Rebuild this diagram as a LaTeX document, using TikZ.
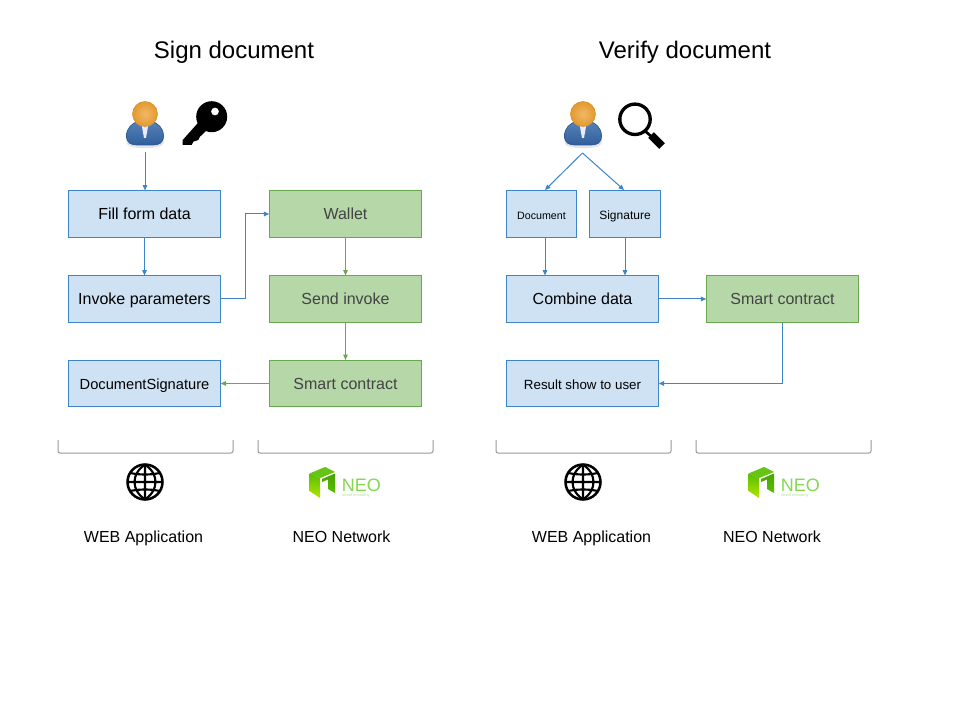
\documentclass[tikz,border=0pt]{standalone}
\usepackage{fontspec}
\setmainfont{Liberation Sans}
\usetikzlibrary{arrows.meta,calc}
\definecolor{bluefill}{HTML}{CFE2F3}
\definecolor{blueline}{HTML}{3D85C6}
\definecolor{greenfill}{HTML}{B6D7A8}
\definecolor{greenline}{HTML}{6AA84F}
\definecolor{greentext}{HTML}{434343}
\definecolor{bracketc}{HTML}{999999}
\definecolor{neoa}{HTML}{58BF00}
\definecolor{neob}{HTML}{B4E400}
\definecolor{neoc}{HTML}{84D850}
\definecolor{bodyc}{HTML}{3A6DAA}
\definecolor{bodye}{HTML}{2F5F9C}
\definecolor{heada}{HTML}{F2B766}
\definecolor{headb}{HTML}{E29A2E}
\tikzset{
  x=0.75pt,y=-0.75pt,
  bluebox/.style={draw=blueline,fill=bluefill,line width=0.75pt,minimum height=34.6pt,minimum width=113.6pt,inner sep=0pt,text height=9.5pt,text depth=0.5pt,font=\fontsize{12}{14}\selectfont,text=black},
  greenbox/.style={bluebox,draw=greenline,fill=greenfill,text=greentext},
  smallbox/.style={bluebox,minimum width=53.2pt},
  blueconn/.style={draw=blueline,line width=0.75pt,-{Triangle[length=4pt,width=3.4pt]}},
  greenconn/.style={draw=greenline,line width=0.75pt,-{Triangle[length=4pt,width=3.4pt]}},
  bracketline/.style={draw=bracketc,line width=0.75pt,rounded corners=1.5pt},
  title/.style={font=\fontsize{18}{22}\selectfont,text=black,inner sep=0pt,text height=14pt,text depth=1pt},
  caption/.style={font=\fontsize{12}{14}\selectfont,text=black,inner sep=0pt,text height=10pt,text depth=0pt},
  person/.pic={
    \fill[black,opacity=0.10] (-18.5,29) .. controls (-18.5,36) and (18.5,36) .. (18.5,29) -- (18.5,25) -- (-18.5,25) -- cycle;
    \path[draw=bodye!90!black,line width=0.5pt,top color=bodyc!85!white,bottom color=bodye]
      (-18.5,22) .. controls (-18.5,14) and (-13,9) .. (-6,7) -- (6,7) .. controls (13,9) and (18.5,14) .. (18.5,22)
      .. controls (18.5,29) and (14,31) .. (8,31) -- (-8,31) .. controls (-14,31) and (-18.5,29) .. (-18.5,22) -- cycle;
    \fill[white!92!blue] (-3.5,10) -- (3.5,10) -- (1,24) -- (-1,24) -- cycle;
    \shade[inner color=heada,outer color=headb] (0,0) circle (12.6);
    \draw[headb!90!brown,line width=0.7pt] (0,0) circle (12.3);
  },
  neologo/.pic={
    \shade[top color=neoa,bottom color=neob,shading angle=0] (0.5,6.5) -- (11,11) -- (11,31) -- (0.5,24) -- cycle;
    \fill[neoa!92!white] (0.5,6.5) -- (16,0) -- (26,5) -- (11,11) -- cycle;
    \shade[top color=neoa!85!black,bottom color=neoa] (13,12) -- (26,6.5) -- (26,26) -- (19,22) -- (19,12.5) -- (13,15) -- cycle;
    \node[text=neoc,inner sep=0pt,anchor=west,font=\fontsize{13.5}{15}\selectfont] at (32.5,18) {NEO};
    \node[text=neoc!70,inner sep=0pt,anchor=west,font=\fontsize{3}{4}\selectfont] at (33,29) {smart economy};
  },
  globeicon/.pic={
    \draw[black,line width=1.9pt] (0,0) circle (17.5);
    \draw[black,line width=1.6pt] (0,-17.5) -- (0,17.5) (-17.5,0) -- (17.5,0)
      (0,-17.5) .. controls (-14,-8) and (-14,8) .. (0,17.5)
      (0,-17.5) .. controls (14,-8) and (14,8) .. (0,17.5)
      (-14.5,-9) .. controls (-6,-7) and (6,-7) .. (14.5,-9)
      (-14.5,9) .. controls (-6,7) and (6,7) .. (14.5,9);
  }
}
\begin{document}
\begin{tikzpicture}
\useasboundingbox (0,0) rectangle (960,720);
\fill[white] (0,0) rectangle (960,720);

% titles
\node[title] (t1) at (234,50) {Sign document};
\node[title] (t2) at (685,50) {Verify document};

% icons
\pic at (145,114) {person};
\pic at (583,114) {person};
% key
\fill[black,even odd rule] (211.7,116.7) circle (15.5) (215,111.5) circle (4);
\fill[black] (198.3,122.5) -- (182.7,140) -- (182.7,145) -- (191.7,145) -- (193.3,141.7) -- (198.3,140) -- (200,136.7) -- (206,131) -- cycle;
% magnifier
\draw[black,line width=2.5pt] (635,119.3) circle (15.2);
\draw[black,line width=2pt] (645,131) -- (652,137);
\draw[black,line width=6pt] (651,135) -- (662,146);

% left boxes
\node[bluebox] (fill) at (144.5,214) {Fill form data};
\node[bluebox] (invoke) at (144.5,299) {Invoke parameters};
\node[bluebox,font=\fontsize{11}{13}\selectfont] (docsig) at (144.5,383.5) {DocumentSignature};
\node[greenbox] (wallet) at (345.5,214) {Wallet};
\node[greenbox] (send) at (345.5,299) {Send invoke};
\node[greenbox] (smart) at (345.5,383.5) {Smart contract};

% right boxes
\node[smallbox,font=\fontsize{8}{10}\selectfont] (document) at (541.5,214) {Document};
\node[smallbox,font=\fontsize{9}{11}\selectfont] (signature) at (625,214) {Signature};
\node[bluebox] (combine) at (582.5,299) {Combine data};
\node[greenbox] (smart2) at (782.5,299) {Smart contract};
\node[bluebox,font=\fontsize{10}{12}\selectfont] (result) at (582.5,383.5) {Result show to user};

% free ends
\coordinate (p1) at (145,152);
\coordinate (p2) at (582.5,153);

% connectors
\draw[blueconn] (p1) -- (fill.north -| p1);
\draw[blueconn] (fill) -- (invoke);
\draw[blueconn] (invoke.east) -- ++(25,0) |- (wallet.west);
\draw[greenconn] (wallet) -- (send);
\draw[greenconn] (send) -- (smart);
\draw[greenconn] (smart) -- (docsig);

\draw[blueconn] (p2) -- (545,190);
\draw[blueconn] (p2) -- (624,190);
\draw[blueconn] (document.south -| 545,0) -- (combine.north -| 545,0);
\draw[blueconn] (signature.south) -- (combine.north -| signature.south);
\draw[blueconn] (combine) -- (smart2);
\draw[blueconn] (smart2.south) |- (result.east);

% brackets
\draw[bracketline] (58,440) -- (58,453) -- (233,453) -- (233,440);
\draw[bracketline] (258,440) -- (258,453) -- (433,453) -- (433,440);
\draw[bracketline] (496,440) -- (496,453) -- (671,453) -- (671,440);
\draw[bracketline] (696,440) -- (696,453) -- (871,453) -- (871,440);

% footer icons
\pic at (145,482) {globeicon};
\pic at (583,482) {globeicon};
\pic at (309,467) {neologo};
\pic at (748,467) {neologo};

% captions
\node[caption] (c1) at (143.5,536) {WEB Application};
\node[caption] (c2) at (341.5,536) {NEO Network};
\node[caption] (c3) at (591.5,536) {WEB Application};
\node[caption] (c4) at (772,536) {NEO Network};
\end{tikzpicture}
\end{document}
